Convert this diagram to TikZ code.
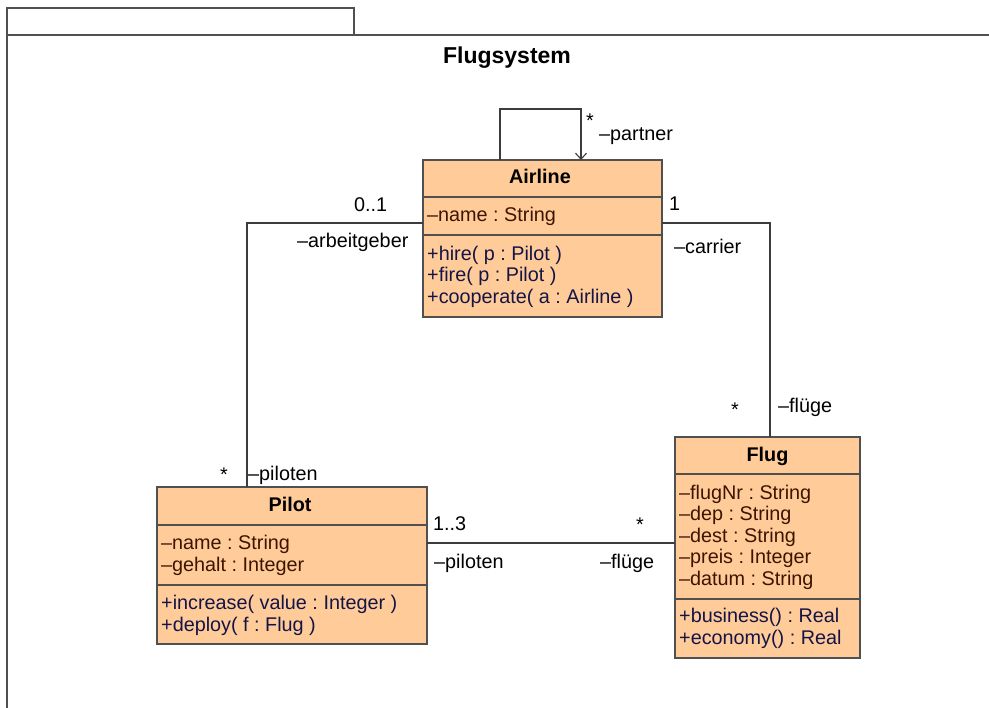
\documentclass[tikz,border=0pt]{standalone}
\usepackage{fontspec}
\setmainfont{Liberation Sans}
\frenchspacing
\usetikzlibrary{arrows.meta}
\definecolor{classfill}{RGB}{255,204,153}
\definecolor{lineg}{RGB}{80,80,80}
\definecolor{conng}{RGB}{60,60,60}
\definecolor{attrc}{RGB}{60,20,0}
\definecolor{opc}{RGB}{20,20,70}
\tikzset{
 classbox/.style={draw=lineg, line width=1.4pt, fill=classfill, inner sep=0pt, outer sep=0pt, anchor=north west},
 sepline/.style={draw=lineg, line width=1.4pt},
 conn/.style={draw=conng, line width=1.1pt},
 frameline/.style={draw=lineg, line width=1.5pt},
 txt/.style={anchor=base west, inner sep=0pt, font=\fontsize{19.8}{21}\selectfont\frenchspacing},
 attr/.style={txt, text=attrc},
 oper/.style={txt, text=opc},
 lbl/.style={txt, text=black},
 cname/.style={anchor=base, inner sep=0pt, font=\fontsize{19.8}{21}\selectfont\bfseries},
}
\begin{document}
\begin{tikzpicture}[x=1pt, y=-1pt]
\useasboundingbox (0,0) rectangle (989,708);
% frame
\draw[frameline] (7,708) -- (7,8) -- (354,8) -- (354,35);
\draw[frameline] (7,35) -- (989,35);
\node[anchor=base, inner sep=0pt, font=\fontsize{23}{26}\selectfont\bfseries] (title) at (507,63.5) {Flugsystem};

% Airline
\node[classbox, minimum width=239pt, minimum height=157pt] (airline) at (423,160) {};
\draw[sepline] (airline.west |- 0,197) -- (airline.east |- 0,197);
\draw[sepline] (airline.west |- 0,235) -- (airline.east |- 0,235);
\node[cname] (airlineT) at (540,184) {Airline};
\node[attr] (airlineA1) at (427,222) {–name : String};
\node[oper] (airlineO1) at (427,260.5) {+hire( p : Pilot )};
\node[oper] (airlineO2) at (427,282) {+fire( p : Pilot )};
\node[oper] (airlineO3) at (427,303.5) {+cooperate( a : Airline )};

% Pilot
\node[classbox, minimum width=270pt, minimum height=157pt] (pilot) at (157,487) {};
\draw[sepline] (pilot.west |- 0,525) -- (pilot.east |- 0,525);
\draw[sepline] (pilot.west |- 0,585) -- (pilot.east |- 0,585);
\node[cname] (pilotT) at (290,512) {Pilot};
\node[attr] (pilotA1) at (161,550) {–name : String};
\node[attr] (pilotA2) at (161,571.5) {–gehalt : Integer};
\node[oper] (pilotO1) at (161,610) {+increase( value : Integer )};
\node[oper] (pilotO2) at (161,631.5) {+deploy( f : Flug )};

% Flug
\node[classbox, minimum width=185pt, minimum height=221pt] (flug) at (675,437) {};
\draw[sepline] (flug.west |- 0,474) -- (flug.east |- 0,474);
\draw[sepline] (flug.west |- 0,599) -- (flug.east |- 0,599);
\node[cname] (flugT) at (767.5,462) {Flug};
\node[attr] (flugA1) at (679,499.5) {–flugNr : String};
\node[attr] (flugA2) at (679,521) {–dep : String};
\node[attr] (flugA3) at (679,542.5) {–dest : String};
\node[attr] (flugA4) at (679,564) {–preis : Integer};
\node[attr] (flugA5) at (679,585.5) {–datum : String};
\node[oper] (flugO1) at (679,623) {+business() : Real};
\node[oper] (flugO2) at (679,644.5) {+economy() : Real};

% connectors
\coordinate (jL) at (247,223);
\coordinate (jR) at (770,223);
\coordinate (jM) at (0,543);
\coordinate (l1) at (500,109);
\coordinate (l2) at (581,109);
\draw[conn] (airline.west |- jL) -| (pilot.north -| jL);
\draw[conn] (airline.east |- jR) -| (flug.north -| jR);
\draw[conn] (pilot.east |- jM) -- (flug.west |- jM);
\draw[conn, -{Straight Barb[length=6pt,width=11pt]}] (airline.north -| l1) -- (l1) -- (l2) -- (airline.north -| l2);

% labels
\node[lbl] (lp1) at (586,128) {*};
\node[lbl] (lp2) at (599,141) {–partner};
\node[lbl] (la1) at (354,212) {0..1};
\node[lbl] (la2) at (297,248) {–arbeitgeber};
\node[lbl] (lc1) at (669,211) {1};
\node[lbl] (lc2) at (674,254) {–carrier};
\node[lbl] (lf1) at (731,417) {*};
\node[lbl] (lf2) at (778,413) {–flüge};
\node[lbl] (lpi1) at (220,482) {*};
\node[lbl] (lpi2) at (248,481) {–piloten};
\node[lbl] (lm1) at (433,531) {1..3};
\node[lbl] (lm2) at (636,532) {*};
\node[lbl] (lm3) at (434,569) {–piloten};
\node[lbl] (lm4) at (600,569) {–flüge};
\end{tikzpicture}
\end{document}
